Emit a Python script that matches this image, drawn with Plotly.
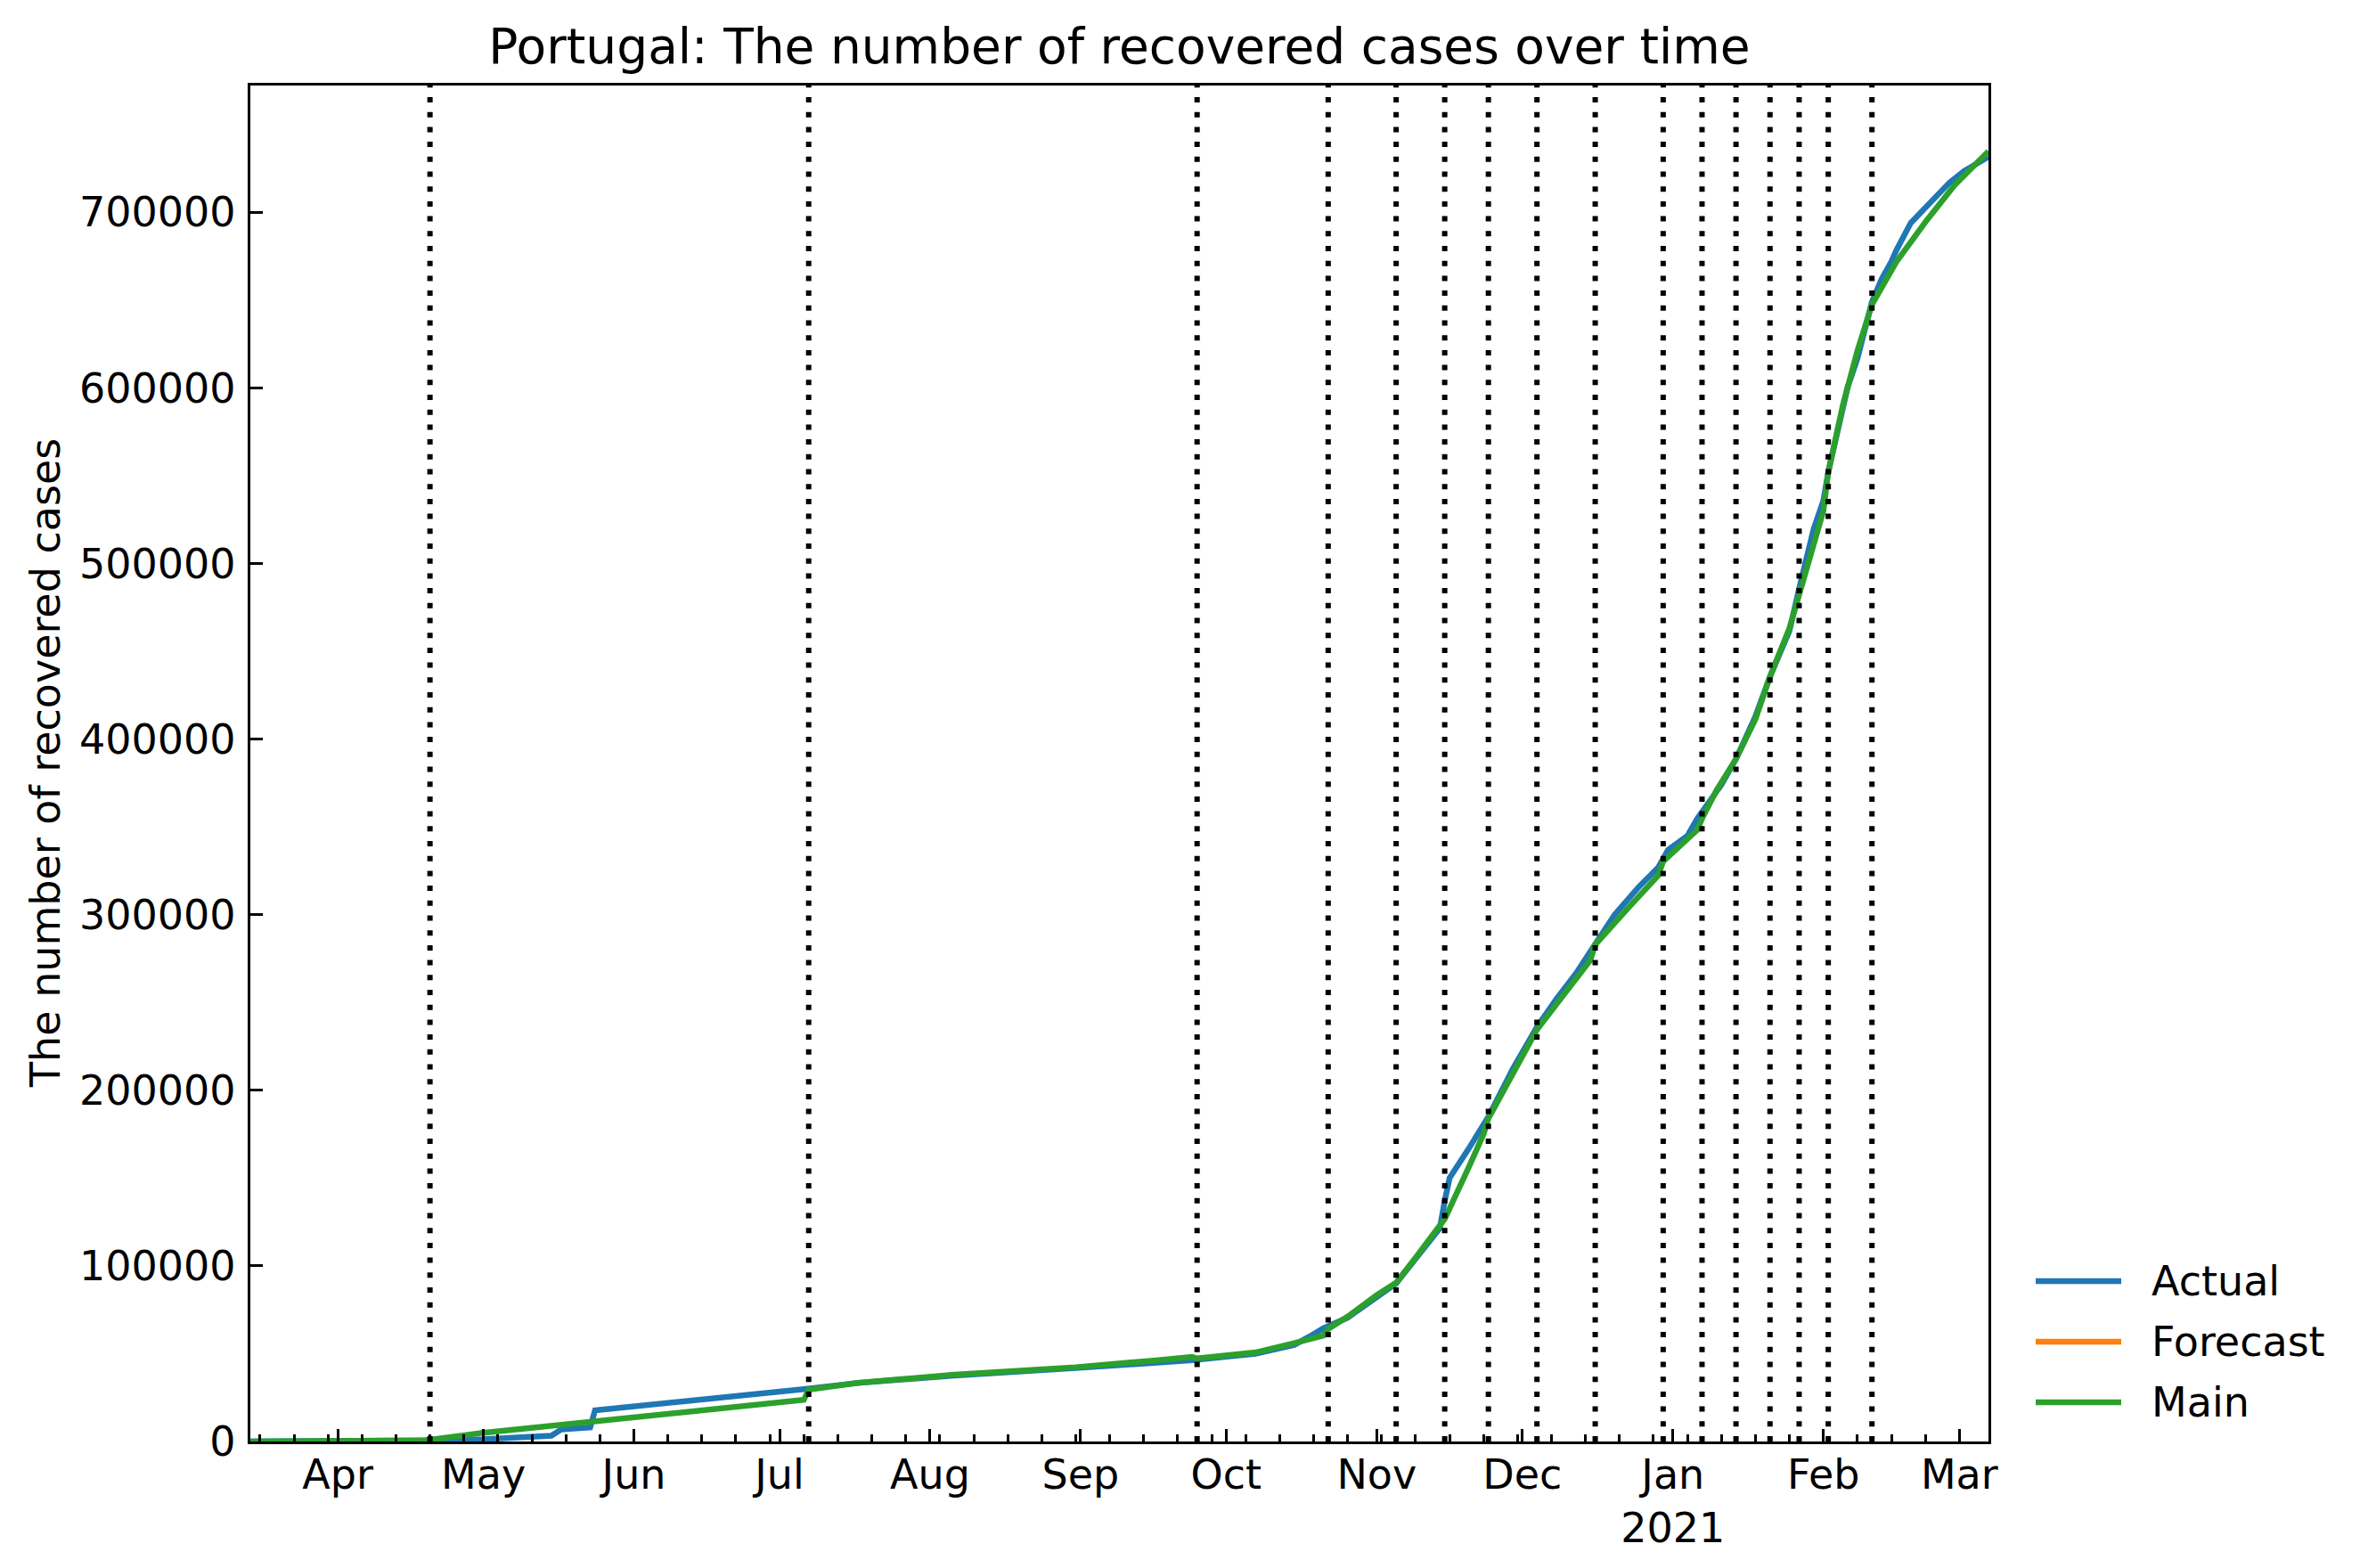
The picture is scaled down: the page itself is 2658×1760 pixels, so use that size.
import plotly.graph_objects as go

title = "Portugal: The number of recovered cases over time"
y_label = "The number of recovered cases"
series_names = ["Actual", "Forecast", "Main"]
series_colors = ["#1f77b4", "#ff7f0e", "#2ca02c"]

# values
actual_dates = [
    "2020-03-14", "2020-04-01", "2020-04-20", "2020-05-01", "2020-05-12",
    "2020-05-15", "2020-05-17", "2020-05-23", "2020-05-24", "2020-06-14",
    "2020-07-06", "2020-07-17", "2020-08-06", "2020-08-31", "2020-09-16",
    "2020-09-24", "2020-10-07", "2020-10-15", "2020-10-18", "2020-10-21",
    "2020-10-26", "2020-11-01", "2020-11-05", "2020-11-09", "2020-11-14",
    "2020-11-15", "2020-11-16", "2020-11-20", "2020-11-24", "2020-11-29",
    "2020-12-04", "2020-12-08", "2020-12-12", "2020-12-15", "2020-12-16",
    "2020-12-20", "2020-12-25", "2020-12-29", "2020-12-31", "2021-01-04",
    "2021-01-06", "2021-01-11", "2021-01-14", "2021-01-18", "2021-01-21",
    "2021-01-23", "2021-01-25", "2021-01-27", "2021-01-30", "2021-02-01",
    "2021-02-02", "2021-02-06", "2021-02-08", "2021-02-11", "2021-02-13",
    "2021-02-15", "2021-02-16", "2021-02-19", "2021-02-22", "2021-02-27",
    "2021-03-02", "2021-03-07",
]
actual_values = [
    0, 50, 600, 1300, 2300,
    3300, 6800, 8000, 17800, 23300,
    29800, 33300, 37600, 41800, 44800,
    46300, 50000, 55000, 59500, 64500,
    70500, 82800, 90000, 104000, 121500,
    137000, 150000, 167000, 185000, 212000,
    236000, 252000, 266400, 279000, 283500,
    300000, 315900, 327000, 336900, 345000,
    354700, 374000, 388700, 413000, 435600,
    448600, 461600, 485700, 519700, 535900,
    552000, 600500, 616700, 649000, 662000,
    672000, 678200, 694000, 702400, 717000,
    723500, 731600,
]

forecast_dates = ["2021-03-07"]
forecast_values = [734800]

main_dates = [
    "2020-03-14", "2020-04-01", "2020-04-19", "2020-05-01", "2020-05-24",
    "2020-06-14", "2020-07-06", "2020-07-07", "2020-07-17", "2020-08-06",
    "2020-08-31", "2020-09-16", "2020-09-24", "2020-09-25", "2020-10-07",
    "2020-10-15", "2020-10-21", "2020-10-22", "2020-10-26", "2020-11-01",
    "2020-11-05", "2020-11-09", "2020-11-14", "2020-11-15", "2020-11-20",
    "2020-11-23", "2020-11-24", "2020-11-29", "2020-12-04", "2020-12-08",
    "2020-12-15", "2020-12-16", "2020-12-20", "2020-12-23", "2020-12-29",
    "2020-12-30", "2021-01-06", "2021-01-07", "2021-01-10", "2021-01-14",
    "2021-01-18", "2021-01-21", "2021-01-25", "2021-01-27", "2021-02-01",
    "2021-02-02", "2021-02-05", "2021-02-08", "2021-02-11", "2021-02-16",
    "2021-02-22", "2021-02-28", "2021-03-07",
]
main_values = [
    0, 150, 600, 5000, 11600,
    17000, 23700, 29600, 33400, 38000,
    42300, 46100, 48200, 47300, 50700,
    56000, 60300, 64100, 71100, 83400,
    90400, 104700, 122500, 126700, 156400,
    175000, 184000, 209500, 234500, 249000,
    274100, 283000, 296000, 304500, 322400,
    330400, 348200, 354700, 370900, 388700,
    411300, 435600, 463100, 482000, 530000,
    552000, 590000, 621000, 647500, 671700,
    694400, 715400, 734800,
]

change_dates = [
    "2020-04-20", "2020-07-07", "2020-09-25", "2020-10-22", "2020-11-05",
    "2020-11-15", "2020-11-24", "2020-12-04", "2020-12-16", "2020-12-30",
    "2021-01-07", "2021-01-14", "2021-01-21", "2021-01-27", "2021-02-02",
    "2021-02-11",
]

month_ticks = [
    "2020-04-01", "2020-05-01", "2020-06-01", "2020-07-01", "2020-08-01",
    "2020-09-01", "2020-10-01", "2020-11-01", "2020-12-01", "2021-01-01",
    "2021-02-01", "2021-03-01",
]
month_labels = ["Apr", "May", "Jun", "Jul", "Aug", "Sep", "Oct", "Nov", "Dec",
                "Jan<br>2021", "Feb", "Mar"]
y_ticks = [0, 100000, 200000, 300000, 400000, 500000, 600000, 700000]

# the page body has an 8px margin, so the figure is drawn 8px in and 8px down
OFF = 8
W, H = 2658 - OFF, 1760 - OFF
L, R, T, B = 281 - OFF, 2232 - OFF, 96 - OFF, 1618 - OFF
font = "DejaVu Sans"

fig = go.Figure()
all_series = [(actual_dates, actual_values), (forecast_dates, forecast_values),
              (main_dates, main_values)]
for (xs, ys), name, color in zip(all_series, series_names, series_colors):
    fig.add_trace(go.Scatter(x=xs, y=ys, mode="lines", name=name,
                             line=dict(color=color, width=6.5),
                             showlegend=False))

for d in change_dates:
    fig.add_vline(x=d, line=dict(color="black", width=6, dash="6px,10.7px"))


# legend drawn by hand so the line samples get matplotlib's length
def px_x(p):
    return (p - OFF - L) / (R - L)


def px_y(p):
    return (B - (p - OFF)) / (B - T)


for i, (name, color) in enumerate(zip(series_names, series_colors)):
    yc = 1438 + i * 68
    fig.add_shape(type="line", xref="paper", yref="paper",
                  x0=px_x(2285), x1=px_x(2381), y0=px_y(yc), y1=px_y(yc),
                  line=dict(color=color, width=6.5))
    fig.add_annotation(text=name, xref="paper", yref="paper",
                       x=px_x(2413), y=px_y(yc), xanchor="left", yanchor="middle",
                       showarrow=False, font=dict(family=font, size=46, color="black"))

fig.add_annotation(text=y_label, xref="paper", yref="paper",
                   x=px_x(51), y=0.5, xanchor="center", yanchor="middle",
                   textangle=-90, showarrow=False,
                   font=dict(family=font, size=46, color="black"))

fig.update_layout(
    width=W, height=H,
    margin=dict(l=L, r=W - R, t=T, b=H - B),
    paper_bgcolor="white", plot_bgcolor="white",
    font=dict(family=font, size=46, color="black"),
    title=dict(text=title, x=0.5, xref="paper", xanchor="center",
               y=1 - (52 - OFF) / H, yref="container", yanchor="middle",
               font=dict(family=font, size=55, color="black")),
)
fig.update_xaxes(
    type="date", range=["2020-03-14", "2021-03-07"],
    tickmode="array", tickvals=month_ticks, ticktext=month_labels,
    ticks="inside", ticklen=14, tickwidth=3.3, tickcolor="black",
    minor=dict(ticks="inside", ticklen=7.5, tickwidth=2.5, tickcolor="black",
               dtick=7 * 86400000, tick0="2020-03-16", showgrid=False),
    showline=True, linewidth=3.3, linecolor="black", mirror=True,
    showgrid=False, zeroline=False, ticklabelstandoff=-5,
    tickfont=dict(family=font, size=46, color="black"),
)
fig.update_yaxes(
    range=[0, 772200], tickmode="array", tickvals=y_ticks, tickformat="d",
    ticks="inside", ticklen=14, tickwidth=3.3, tickcolor="black",
    showline=True, linewidth=3.3, linecolor="black", mirror=True,
    showgrid=False, zeroline=False, ticklabelstandoff=4,
    tickfont=dict(family=font, size=46, color="black"),
)

fig.write_html("out.html")
